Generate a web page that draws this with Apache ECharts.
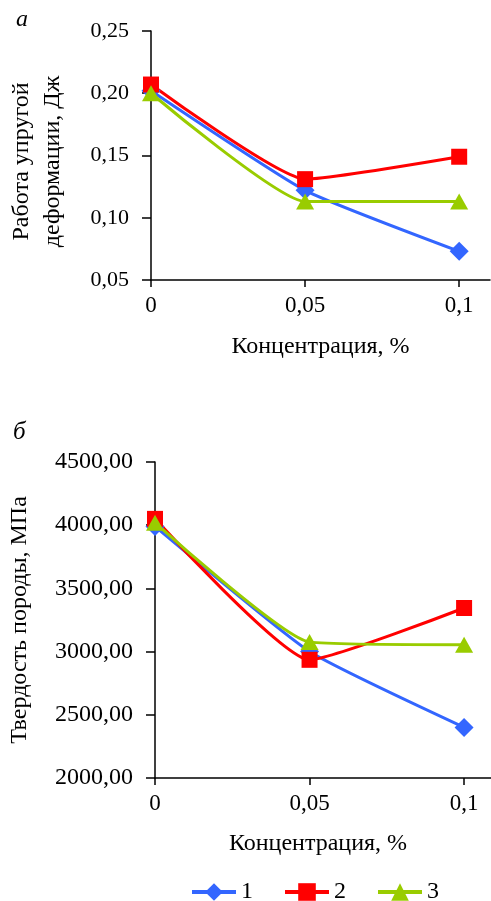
<!DOCTYPE html>
<html>
<head>
<meta charset="utf-8">
<script src="https://cdn.jsdelivr.net/npm/echarts@6/dist/echarts.min.js"></script>
<style>
  html, body { margin: 0; padding: 0; background: #fff; }
  #chart { width: 491px; height: 901px; }
</style>
</head>
<body>
<div id="chart"></div>
<script>
// концентрация, %
var conc = [0, 0.05, 0.1];
var seriesNames = ['1', '2', '3'];

// а) работа упругой деформации, Дж
var work1 = [0.202, 0.122, 0.073];
var work2 = [0.207, 0.131, 0.149];
var work3 = [0.200, 0.113, 0.113];

// б) твердость породы, МПа
var hard1 = [3990, 3000, 2400];
var hard2 = [4050, 2935, 3345];
var hard3 = [4020, 3075, 3055];

var colors = ['#3366ff', '#ff0000', '#99cc00'];
var symbols = ['diamond', 'rect', 'triangle'];
var symbolSizes = [19, 16, [18, 16]];

var font = 'Liberation Serif';

function pairs(ys) {
  return conc.map(function (x, i) { return [x, ys[i]]; });
}
function comma(v, d) {
  return (d == null ? String(v) : v.toFixed(d)).replace('.', ',');
}

function makeSeries(name, idx, ys, axisIdx) {
  return {
    name: name,
    type: 'line',
    xAxisIndex: axisIdx,
    yAxisIndex: axisIdx,
    data: pairs(ys),
    smooth: 0.15,
    symbol: symbols[idx],
    symbolSize: symbolSizes[idx],
    itemStyle: { color: colors[idx] },
    lineStyle: { color: colors[idx], width: 3 },
    emphasis: { disabled: true }
  };
}

function xAxisOpt(gridIdx, nameGap, namePad) {
  return {
    gridIndex: gridIdx,
    type: 'value',
    min: 0,
    max: 0.11,
    name: 'Концентрация, %',
    nameLocation: 'middle',
    nameGap: nameGap,
    nameTextStyle: { fontFamily: font, fontSize: 24, color: '#000', padding: namePad },
    axisLine: { lineStyle: { color: '#000', width: 1.5 } },
    axisTick: { show: true, inside: false, length: 7, customValues: conc, lineStyle: { color: '#000', width: 1.5 } },
    axisLabel: {
      customValues: conc,
      margin: 14,
      fontFamily: font, fontSize: 23, color: '#000',
      formatter: function (v) { return comma(v); }
    },
    splitLine: { show: false }
  };
}

var myChart = echarts.init(document.getElementById('chart'));

myChart.setOption({
  animation: false,
  backgroundColor: '#fff',
  grid: [
    { left: 151, top: 31, width: 339, height: 249, outerBoundsMode: 'none' },
    { left: 155, top: 462, width: 340, height: 316, outerBoundsMode: 'none' }
  ],
  legend: {
    data: seriesNames,
    left: 185,
    top: 875,
    itemWidth: 44,
    itemHeight: 22,
    itemGap: 30,
    lineStyle: { width: 4 },
    textStyle: { fontFamily: font, fontSize: 24, color: '#000' }
  },
  xAxis: [
    xAxisOpt(0, 55, [0, 0, 0, 0]),
    xAxisOpt(1, 54, [0, 14, 0, 0])
  ],
  yAxis: [
    {
      gridIndex: 0,
      type: 'value',
      min: 0.05,
      max: 0.25,
      interval: 0.05,
      name: 'Работа упругой\nдеформации, Дж',
      nameLocation: 'middle',
      nameGap: 83,
      nameTextStyle: { fontFamily: font, fontSize: 24, color: '#000', lineHeight: 31, padding: [0, 12, 0, 0] },
      axisLine: { show: true, lineStyle: { color: '#000', width: 1.5 } },
      axisTick: { show: true, length: 9, lineStyle: { color: '#000', width: 1.5 } },
      axisLabel: {
        margin: 22, fontFamily: font, fontSize: 22, color: '#000',
        formatter: function (v) { return comma(v, 2); }
      },
      splitLine: { show: false }
    },
    {
      gridIndex: 1,
      type: 'value',
      min: 2000,
      max: 4500,
      interval: 500,
      name: 'Твердость породы, МПа',
      nameLocation: 'middle',
      nameGap: 123,
      nameTextStyle: { fontFamily: font, fontSize: 24, color: '#000' },
      axisLine: { show: true, lineStyle: { color: '#000', width: 1.5 } },
      axisTick: { show: true, length: 9, lineStyle: { color: '#000', width: 1.5 } },
      axisLabel: {
        margin: 22, fontFamily: font, fontSize: 24, color: '#000',
        formatter: function (v) { return comma(v, 2); }
      },
      splitLine: { show: false }
    }
  ],
  graphic: [
    { type: 'text', left: 16, top: 8, style: { text: 'а', fontFamily: font, fontStyle: 'italic', fontSize: 24, fill: '#000' } },
    { type: 'text', left: 13, top: 420, style: { text: 'б', fontFamily: font, fontStyle: 'italic', fontSize: 25, fill: '#000' } }
  ],
  series: [
    makeSeries('1', 0, work1, 0),
    makeSeries('2', 1, work2, 0),
    makeSeries('3', 2, work3, 0),
    makeSeries('1', 0, hard1, 1),
    makeSeries('2', 1, hard2, 1),
    makeSeries('3', 2, hard3, 1)
  ]
});
</script>
</body>
</html>
